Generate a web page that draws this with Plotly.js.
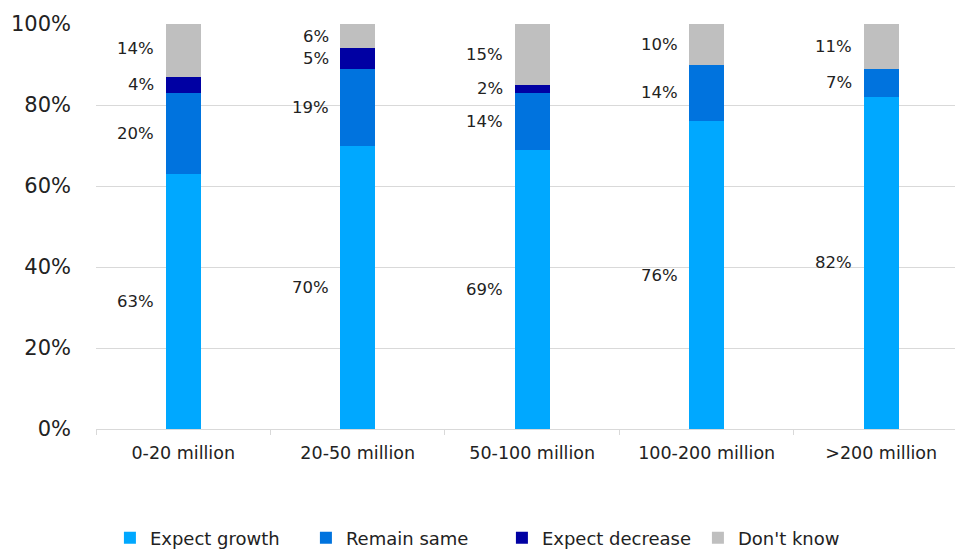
<!DOCTYPE html>
<html>
<head>
<meta charset="utf-8">
<script src="https://cdn.plot.ly/plotly-3.0.1.min.js"></script>
<style>html,body{margin:0;padding:0;background:#fff;}#chart{width:960px;height:550px;}</style>
</head>
<body>
<div id="chart"></div>
<script>
const categories = ["0-20 million", "20-50 million", "50-100 million", "100-200 million", ">200 million"];
const seriesNames = ["Expect growth", "Remain same", "Expect decrease", "Don't know"];
const expectGrowth = [63, 70, 69, 76, 82];
const remainSame = [20, 19, 14, 14, 7];
const expectDecrease = [4, 5, 2, 0, 0];
const dontKnow = [14, 6, 15, 10, 11];
const yTicks = [0, 20, 40, 60, 80, 100];

const colors = ["#00A8FF", "#0073DE", "#0000A3", "#BFBFBF"];
const series = [expectGrowth, remainSame, expectDecrease, dontKnow];

const traces = series.map((vals, i) => ({
  type: "bar",
  name: seriesNames[i],
  x: categories,
  y: vals,
  marker: {color: colors[i], line: {width: 0}},
  width: 0.2,
  hoverinfo: "none"
}));

const annotations = [];
categories.forEach((c, ci) => {
  let base = 0;
  series.forEach((vals, si) => {
    const v = vals[ci];
    if (v > 0) {
      annotations.push({
        x: c, y: base + v / 2, xref: "x", yref: "y",
        text: v + "%", showarrow: false,
        xanchor: "right", yanchor: "middle", xshift: -27,
        font: {family: "DejaVu Sans", size: 16.5, color: "#222"}
      });
    }
    base += v;
  });
});

const layout = {
  width: 960, height: 550,
  margin: {l: 96, r: 5, t: 24, b: 121, autoexpand: false},
  paper_bgcolor: "#fff", plot_bgcolor: "#fff",
  barmode: "stack",
  showlegend: true,
  legend: {
    orientation: "h", x: 0.0162, xanchor: "left", y: -0.269, yanchor: "middle",
    font: {family: "DejaVu Sans", size: 18, color: "#222"},
    itemwidth: 30, traceorder: "normal", tracegroupgap: 0,
    entrywidth: 151, entrywidthmode: "pixels"
  },
  xaxis: {
    type: "category",
    range: [-0.5, 4.423],
    showgrid: false,
    showline: true, linecolor: "#D9D9D9", linewidth: 1,
    ticks: "outside", tickson: "boundaries", ticklen: 5, tickcolor: "#D9D9D9",
    ticklabelstandoff: 8,
    tickfont: {family: "DejaVu Sans", size: 17.5, color: "#222"},
    fixedrange: true
  },
  yaxis: {
    range: [0, 100],
    tickvals: yTicks,
    ticktext: yTicks.map(t => t + "%"),
    showgrid: true, gridcolor: "#D9D9D9", gridwidth: 1,
    zeroline: false, showline: false,
    ticklabelstandoff: 24,
    tickfont: {family: "DejaVu Sans", size: 21, color: "#222"},
    fixedrange: true
  },
  annotations: annotations
};

Plotly.newPlot("chart", traces, layout, {displayModeBar: false, staticPlot: true});
</script>
</body>
</html>
